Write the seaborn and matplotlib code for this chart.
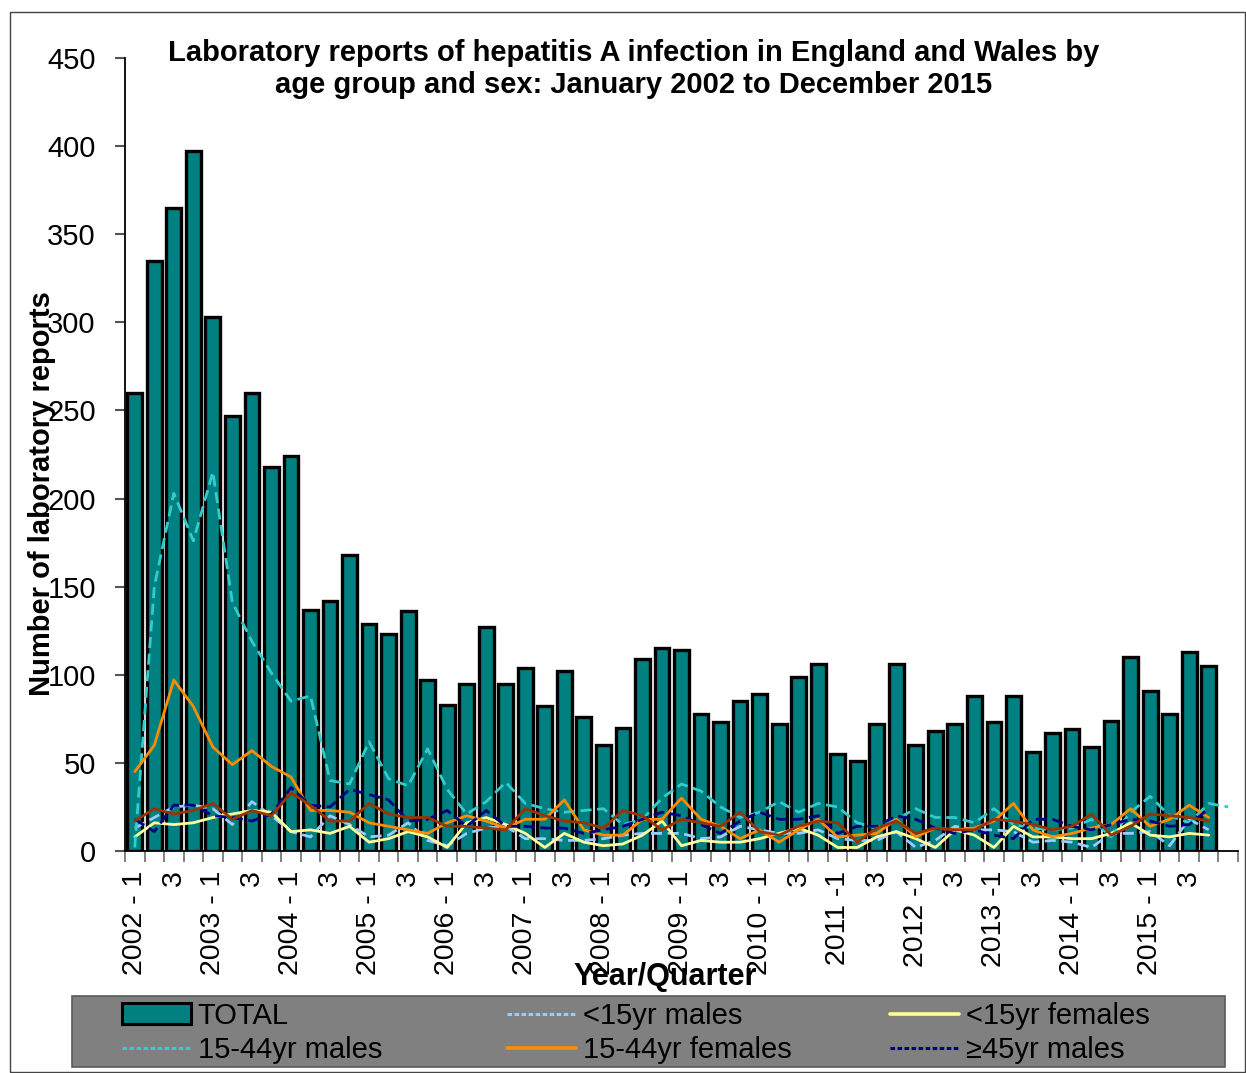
import numpy as np
import pandas as pd
import seaborn as sns
import matplotlib.pyplot as plt
from matplotlib.patches import Patch, Rectangle
from matplotlib.lines import Line2D

# quarterly counts, 2002 Q1 .. 2015 Q4
total = [260, 335, 365, 397, 303, 247, 260, 218, 224, 137, 142, 168, 129, 123, 136, 97,
         83, 95, 127, 95, 104, 82, 102, 76, 60, 70, 109, 115, 114, 78, 73, 85,
         89, 72, 99, 106, 55, 51, 72, 106, 60, 68, 72, 88, 73, 88, 56, 67,
         69, 59, 74, 110, 91, 78, 113, 105]
m_u15 = [13, 19, 25, 26, 24, 15, 28, 20, 11, 8, 20, 15, 8, 9, 16, 6,
         3, 10, 13, 14, 7, 7, 6, 6, 7, 9, 10, 10, 10, 7, 8, 14,
         12, 10, 10, 12, 7, 6, 6, 11, 2, 6, 14, 12, 12, 11, 5, 6,
         5, 2, 10, 10, 11, 3, 18, 12]
f_u15 = [8, 16, 15, 16, 19, 21, 23, 22, 11, 12, 10, 14, 5, 7, 11, 8,
         2, 16, 19, 15, 10, 2, 10, 5, 3, 4, 9, 17, 3, 6, 5, 5,
         7, 10, 13, 9, 2, 2, 8, 11, 7, 2, 12, 9, 2, 14, 8, 8,
         7, 7, 10, 16, 9, 8, 10, 9]
m_1544 = [2, 150, 203, 176, 215, 141, 119, 101, 85, 88, 40, 38, 62, 41, 37, 58,
          35, 21, 28, 39, 27, 24, 22, 23, 24, 15, 18, 30, 38, 34, 25, 19,
          22, 28, 22, 27, 25, 16, 13, 18, 24, 19, 19, 16, 24, 15, 13, 12,
          13, 18, 8, 22, 31, 20, 16, 27, 25]
f_1544 = [45, 60, 97, 82, 59, 49, 57, 48, 42, 23, 23, 22, 16, 14, 12, 10,
          16, 20, 17, 13, 18, 18, 29, 12, 9, 9, 18, 18, 30, 18, 14, 7,
          12, 5, 12, 18, 8, 9, 10, 18, 8, 13, 12, 13, 17, 27, 12, 8,
          10, 13, 15, 24, 14, 18, 26, 19]
m_45 = [18, 11, 26, 26, 20, 19, 17, 21, 36, 26, 25, 35, 32, 29, 17, 18,
        23, 14, 23, 14, 14, 13, 13, 10, 12, 14, 18, 22, 20, 15, 10, 17,
        22, 18, 18, 20, 10, 14, 14, 20, 18, 13, 10, 12, 9, 7, 18, 18,
        14, 12, 15, 18, 17, 14, 15, 24]
f_45 = [17, 24, 21, 23, 27, 18, 23, 20, 33, 26, 17, 17, 27, 21, 19, 19,
        14, 14, 13, 12, 24, 20, 17, 16, 13, 23, 20, 12, 18, 16, 14, 22,
        11, 9, 14, 17, 16, 5, 13, 17, 10, 13, 12, 12, 18, 17, 15, 12,
        14, 21, 9, 14, 21, 20, 19, 17]

years = list(range(2002, 2016))
xlabels = []
for y in years:
    xlabels.append(f"{y} -1" if y in (2011, 2012, 2013) else f"{y} - 1")
    xlabels.append("3")

n_slots = 57
slot = np.arange(n_slots)


def pad(v):
    return list(v) + [np.nan] * (n_slots - len(v))


df = pd.DataFrame({"slot": slot, "total": pad(total), "m_u15": pad(m_u15),
                   "f_u15": pad(f_u15), "m_1544": pad(m_1544), "f_1544": pad(f_1544),
                   "m_45": pad(m_45), "f_45": pad(f_45)})

sns.set_theme(style="white")
plt.rcParams["font.family"] = ["Liberation Sans", "DejaVu Sans"]
for k in ["text.color", "axes.labelcolor", "xtick.color", "ytick.color"]:
    plt.rcParams[k] = "black"

fig = plt.figure(figsize=(12.46, 10.73), dpi=100)
ax = fig.add_axes([125 / 1246, 1 - 851 / 1073, (1238 - 125) / 1246, (851 - 58) / 1073])

sns.barplot(data=df, x="slot", y="total", color="#008080", saturation=1,
            width=0.76, edgecolor="black", linewidth=2.4, ax=ax)

series = [("m_u15", "#99CCFF", "--"), ("f_u15", "#FFFF99", "-"),
          ("m_1544", "#33CCCC", "--"), ("f_1544", "#FF8C00", "-"),
          ("m_45", "#000080", "--"), ("f_45", "#993300", "-")]
for col, c, ls in series:
    sub = df.dropna(subset=[col])
    sns.lineplot(data=sub, x="slot", y=col, color=c, linewidth=2.0,
                 linestyle=(0, (4, 2)) if ls == "--" else "-", ax=ax)

ax.set_xlim(-0.5, n_slots - 0.5)
ax.set_ylim(0, 450)
ax.set_yticks(range(0, 451, 50))
ax.tick_params(axis="y", labelsize=21, length=7, width=1.5, color="#555555", pad=14, left=True)
ax.set_xticks(range(0, 56, 2))
ax.set_xticklabels(xlabels, rotation=90, fontsize=20.5, va="top", ha="center")
ax.set_xticks(np.arange(-0.5, n_slots, 1), minor=True)
ax.tick_params(axis="x", which="major", length=0, pad=14)
ax.tick_params(axis="x", which="minor", length=8, width=1.3, color="#777777", bottom=True)
ax.set_xlabel("")
ax.set_ylabel("")
for s in ["top", "right"]:
    ax.spines[s].set_visible(False)
for s in ["left", "bottom"]:
    ax.spines[s].set_color("black")
    ax.spines[s].set_linewidth(1.3)

fig.text(634 / 1246, 1 - 69 / 1073,
         "Laboratory reports of hepatitis A infection in England and Wales by\n"
         "age group and sex: January 2002 to December 2015",
         ha="center", va="center", fontsize=21, fontweight="bold", linespacing=1.15)
fig.text(42 / 1246, 1 - 494 / 1073, "Number of laboratory reports", rotation=90,
         ha="center", va="center", fontsize=21, fontweight="bold")
fig.text(665 / 1246, 1 - 977 / 1073, "Year/Quarter", ha="center", va="center",
         fontsize=22, fontweight="bold")

# legend box
fig.patches.append(Rectangle((72 / 1246, 1 - 1067 / 1073), (1225 - 72) / 1246, 71 / 1073,
                             transform=fig.transFigure, facecolor="#808080",
                             edgecolor="#5a5a5a", linewidth=1.2, zorder=1))

dash = (0, (1.5, 0.8))
cols = [
    (122, [Patch(facecolor="#008080", edgecolor="black", linewidth=2.2),
           Line2D([], [], color="#33CCCC", linestyle=dash, linewidth=2.2)],
     ["TOTAL", "15-44yr males"]),
    (507, [Line2D([], [], color="#99CCFF", linestyle=dash, linewidth=2.2),
           Line2D([], [], color="#FF8C00", linewidth=2.6)],
     ["<15yr males", "15-44yr females"]),
    (890, [Line2D([], [], color="#FFFF99", linewidth=2.6),
           Line2D([], [], color="#000080", linestyle=dash, linewidth=2.2)],
     ["<15yr females", "\u226545yr males"]),
]
for x0, hs, ls in cols:
    lg = fig.legend(hs, ls, loc="center left",
                    bbox_to_anchor=(x0 / 1246, 1 - 1033 / 1073),
                    fontsize=21, frameon=False, handlelength=2.35,
                    handletextpad=0.25, labelspacing=0.22, borderpad=0, borderaxespad=0)
    lg.set_zorder(3)

fig.patches.append(Rectangle((10 / 1246, 0.001), 1 - 11 / 1246, 1 - 13 / 1073,
                             transform=fig.transFigure, fill=False,
                             edgecolor="#444444", linewidth=1))

fig.savefig("out.png", dpi=100)
